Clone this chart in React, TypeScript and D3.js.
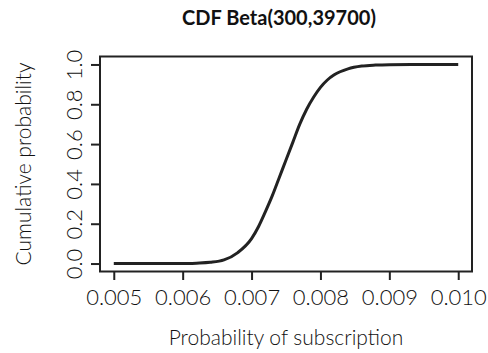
import React from "react";
import { select, scaleLinear, line, curveMonotoneX, axisBottom, axisLeft } from "d3";

// values
const probs = [
  0.005, 0.0055, 0.006, 0.0062, 0.0064, 0.0066, 0.0068, 0.007, 0.0071, 0.0072,
  0.0073, 0.0074, 0.0075, 0.0076, 0.0077, 0.0078, 0.0079, 0.008, 0.0081, 0.0082,
  0.0084, 0.0086, 0.0088, 0.009, 0.0095, 0.01,
];
const cumulative = [
  0, 0, 0, 0.002, 0.006, 0.018, 0.055, 0.125, 0.185, 0.26,
  0.34, 0.43, 0.52, 0.61, 0.7, 0.775, 0.835, 0.885, 0.922, 0.948,
  0.978, 0.992, 0.997, 0.999, 1, 1,
];
const xTicks = [0.005, 0.006, 0.007, 0.008, 0.009, 0.01];
const yTicks = [0, 0.2, 0.4, 0.6, 0.8, 1.0];

const W = 488;
const H = 353;
const FONT = "Lato, 'DejaVu Sans', sans-serif";
const INK = "#222";
const TEXT = "#111";

export default function App() {
  const svgRef = React.useRef<SVGSVGElement>(null);

  React.useEffect(() => {
    const svg = select(svgRef.current);
    const margin = { top: 56.5, right: 16, bottom: 81.5, left: 100 };

    // R style 4% padding on both axes
    const x = scaleLinear().domain([0.0048, 0.0102]).range([margin.left, W - margin.right]);
    const y = scaleLinear().domain([-0.04, 1.04]).range([H - margin.bottom, margin.top]);

    const pts = probs.map((p, i) => [p, cumulative[i]] as [number, number]);

    svg
      .append("path")
      .datum(pts)
      .attr("d", line<[number, number]>().x((d) => x(d[0])).y((d) => y(d[1])).curve(curveMonotoneX))
      .attr("fill", "none")
      .attr("stroke", INK)
      .attr("stroke-width", 3);

    svg
      .append("rect")
      .attr("x", margin.left)
      .attr("y", margin.top)
      .attr("width", W - margin.right - margin.left)
      .attr("height", H - margin.bottom - margin.top)
      .attr("fill", "none")
      .attr("stroke", INK)
      .attr("stroke-width", 2);

    const gx = svg
      .append("g")
      .attr("transform", `translate(0,${H - margin.bottom})`)
      .call(axisBottom(x).tickValues(xTicks).tickSize(8.5).tickFormat((d) => (+d).toFixed(3)));
    gx.select(".domain").remove();
    gx.selectAll("line").attr("stroke", INK).attr("stroke-width", 2);
    gx.selectAll("text")
      .attr("y", 0)
      .attr("dy", 0)
      .attr("transform", "translate(0,33.5)")
      .style("font-family", FONT)
      .style("font-size", "22px")
      .style("font-weight", 300)
      .attr("fill", TEXT);

    const gy = svg
      .append("g")
      .attr("transform", `translate(${margin.left},0)`)
      .call(axisLeft(y).tickValues(yTicks).tickSize(9).tickFormat((d) => (+d).toFixed(1)));
    gy.select(".domain").remove();
    gy.selectAll("line").attr("stroke", INK).attr("stroke-width", 2);
    gy.selectAll("text")
      .attr("x", 0)
      .attr("dy", 0)
      .attr("text-anchor", "middle")
      .attr("transform", "translate(-18,0) rotate(-90)")
      .style("font-family", FONT)
      .style("font-size", "22px")
      .style("font-weight", 300)
      .attr("fill", TEXT);

    svg
      .append("text")
      .attr("x", 279)
      .attr("y", 25)
      .attr("text-anchor", "middle")
      .style("font-family", FONT)
      .style("font-size", "20px")
      .style("font-weight", "bold")
      .attr("fill", TEXT)
      .text("CDF Beta(300,39700)");

    svg
      .append("text")
      .attr("x", (margin.left + W - margin.right) / 2)
      .attr("y", 345)
      .attr("text-anchor", "middle")
      .style("font-family", FONT)
      .style("font-size", "21px")
      .style("font-weight", 300)
      .attr("fill", TEXT)
      .text("Probability of subscription");

    svg
      .append("text")
      .attr("transform", `translate(31,${(margin.top + H - margin.bottom) / 2}) rotate(-90)`)
      .attr("text-anchor", "middle")
      .style("font-family", FONT)
      .style("font-size", "21px")
      .style("font-weight", 300)
      .attr("fill", TEXT)
      .text("Cumulative probability");

    return () => {
      svg.selectAll("*").remove();
    };
  }, []);

  return (
    <svg
      ref={svgRef}
      width={W}
      height={H}
      style={{ position: "absolute", left: 0, top: 0, background: "#fff" }}
    />
  );
}
